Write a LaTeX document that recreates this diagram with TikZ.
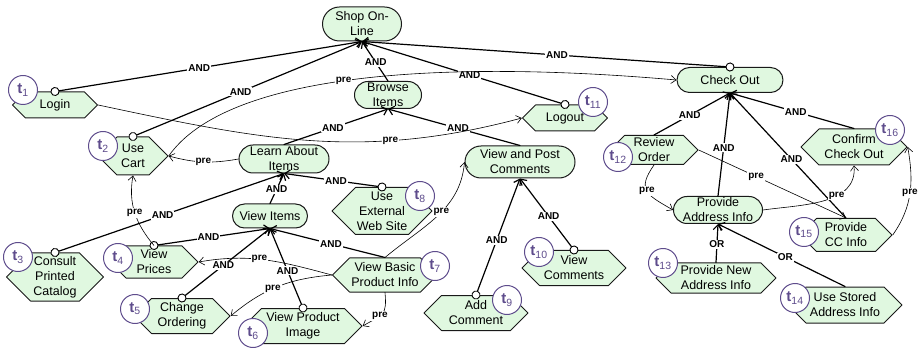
\documentclass[tikz,border=0pt]{standalone}
\usepackage{fontspec}
\setmainfont{Liberation Sans}
\usetikzlibrary{shapes.misc,shapes.symbols,arrows.meta}
\definecolor{nodegreen}{RGB}{224,248,224}
\definecolor{tpurple}{RGB}{94,76,140}
\begin{document}
\begin{tikzpicture}[x=1pt, y=1pt, line join=round, line cap=round, font=\fontsize{12.5}{15}\selectfont]
	\tikzset{goal/.style={rounded rectangle, draw=black!90, fill=nodegreen, line width=1pt, align=center, inner sep=0pt},
		task/.style={signal, signal to=west and east, draw=black!90, fill=nodegreen, line width=1pt, align=center, inner sep=0pt},
		tcirc/.style={circle, draw=tpurple, fill=white, line width=1pt, text=tpurple, minimum size=29pt, inner sep=0pt, font=\fontsize{15}{15}\selectfont},
		andlink/.style={line width=1.2pt, -{Straight Barb[length=5pt,width=9pt]}},
		decolink/.style={line width=1.2pt, {Circle[length=9pt,fill=white,line width=0.9pt]}-{Straight Barb[length=5pt,width=9pt]}, shorten <=-4.5pt},
		prelink/.style={line width=0.6pt, -{Straight Barb[length=5pt,width=8pt]}},
		lbl/.style={font=\fontsize{10}{10}\selectfont\bfseries, fill=white, inner sep=1pt}
	}
	\useasboundingbox (0,0) rectangle (921,351);
	% goals
	\node[goal, minimum width=79pt, minimum height=34pt] (shop) at (362,327) {Shop On-\\Line};
	\node[goal, minimum width=67pt, minimum height=27pt] (browse) at (388,256) {Browse\\Items};
	\node[goal, minimum width=90pt, minimum height=28pt] (learn) at (284,192) {Learn About\\Items};
	\node[goal, minimum width=75pt, minimum height=24pt] (viewitems) at (270,135) {View Items};
	\node[goal, minimum width=110pt, minimum height=32pt] (vpc) at (520,189) {View and Post\\Comments};
	\node[goal, minimum width=106pt, minimum height=25pt] (checkout) at (730,271) {Check Out};
	\node[goal, minimum width=89pt, minimum height=27pt] (pai) at (718,141) {Provide\\Address Info};
	% tasks
	\node[task, minimum width=85pt, minimum height=26pt] (login) at (55,246) {Login};
	\node[task, minimum width=70pt, minimum height=38pt] (usecart) at (133,195) {Use\\Cart};
	\node[task, minimum width=97pt, minimum height=48pt] (consult) at (55,74) {Consult\\Printed\\Catalog};
	\node[task, minimum width=88pt, minimum height=32pt] (viewprices) at (154,89) {View\\Prices};
	\node[task, minimum width=96pt, minimum height=35pt] (changeord) at (182,35) {Change\\Ordering};
	\node[task, minimum width=118pt, minimum height=35pt] (viewimage) at (303,25) {View Product\\Image};
	\node[task, minimum width=105pt, minimum height=34pt] (basicinfo) at (385,76) {View Basic\\Product Info};
	\node[task, minimum width=100pt, minimum height=47pt] (extweb) at (382,140) {Use\\External\\Web Site};
	\node[task, minimum width=104pt, minimum height=35pt] (addcomment) at (476,38) {Add\\Comment};
	\node[task, minimum width=104pt, minimum height=35pt] (viewcomments) at (574,83) {View\\Comments};
	\node[task, minimum width=85pt, minimum height=26pt] (logout) at (565,233) {Logout};
	\node[task, minimum width=88pt, minimum height=29pt] (review) at (654,201) {Review\\Order};
	\node[task, minimum width=120pt, minimum height=30pt] (newaddr) at (716,73) {Provide New\\Address Info};
	\node[task, minimum width=114pt, minimum height=36pt] (stored) at (845,46) {Use Stored\\Address Info};
	\node[task, minimum width=92pt, minimum height=33pt] (ccinfo) at (846,116) {Provide\\CC Info};
	\node[task, minimum width=106pt, minimum height=36pt] (confirm) at (854,204) {Confirm\\Check Out};
	% decompositions
	\foreach \c/\p in {login/shop, usecart/shop, logout/shop, checkout/shop, consult/learn, extweb/learn,
		viewprices/viewitems, changeord/viewitems, viewimage/viewitems, addcomment/vpc, viewcomments/vpc}
		\draw[decolink] (\c.north) -- node[lbl, pos=.47] {AND} (\p.south);
	\foreach \c/\p in {browse/shop, learn/browse, vpc/browse, viewitems/learn, basicinfo/viewitems,
		review/checkout, pai/checkout, ccinfo/checkout, confirm/checkout}
		\draw[andlink] (\c.north) -- node[lbl, pos=.47] {AND} (\p.south);
	\foreach \c in {newaddr, stored}
		\draw[andlink] (\c.north) -- node[lbl, pos=.47] {OR} (pai.south);
	% pre links
	\draw[prelink] (login.east) to[out=-12, in=195] node[lbl, pos=.7] {pre} (logout.west);
	\draw[prelink] (usecart.east) to[out=55, in=175, out looseness=.5, in looseness=1.2] node[lbl, pos=.48] {pre} (checkout.west);
	\draw[prelink] (learn.west) to[out=190, in=-15] node[lbl] {pre} (usecart.east);
	\draw[prelink] (viewprices.north) to[out=130, in=-100] node[lbl] {pre} (usecart.south);
	\draw[prelink] (basicinfo.west) to[out=165, in=10] node[lbl, pos=.55] {pre} (viewprices.east);
	\draw[prelink] (basicinfo.west) to[out=185, in=40] node[lbl, pos=.55] {pre} (changeord.east);
	\draw[prelink] (basicinfo.south) to[out=-85, in=30, looseness=1.5] node[lbl, pos=.6] {pre} (viewimage.east);
	\draw[prelink] (basicinfo.north) to[out=40, in=-95] node[lbl, pos=.55] {pre} (vpc.west);
	\draw[prelink] (review.south) to[out=235, in=150, looseness=1.6] node[lbl] {pre} (pai.west);
	\draw[prelink] (review.east) -- node[lbl, pos=.39] {pre} (ccinfo.north);
	\draw[prelink] (pai.east) to[out=8, in=-85] node[lbl, pos=.62] {pre} (confirm.south);
	\draw[prelink] (ccinfo.east) to[out=55, in=-80] node[lbl] {pre} (confirm.east);
	% task labels
	\foreach \i/\x/\y in {1/23/261, 2/103/205, 3/18/94, 4/118/93, 5/135/42, 6/253/18, 7/435/85, 8/420/155,
		9/507/51, 10/539/99, 11/593/249, 12/618/194, 13/663/88, 14/795/53, 15/804/119, 16/890/221}
		\node[tcirc] (t\i) at (\x,\y) {\textbf{t}\textsubscript{\i}};
\end{tikzpicture}
\end{document}
